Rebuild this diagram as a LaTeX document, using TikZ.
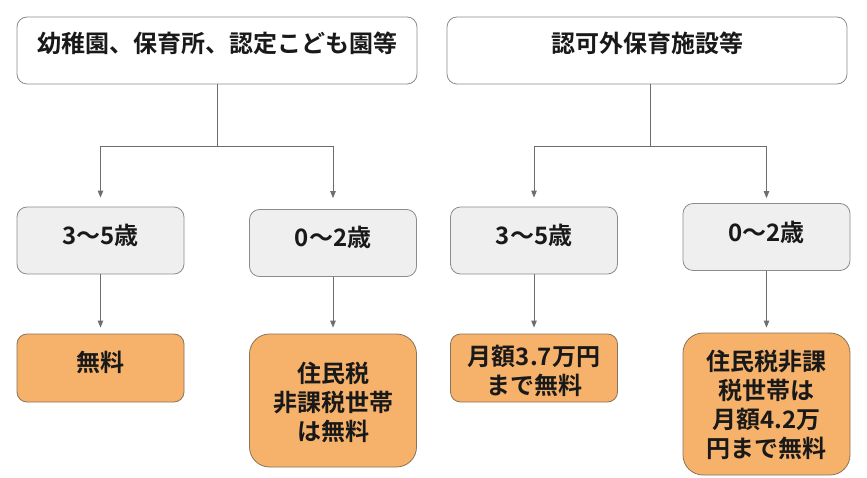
\documentclass[tikz,border=0pt]{standalone}
\usepackage{fontspec}
\setmainfont{Noto Sans CJK JP}[BoldFont={Noto Sans CJK JP Bold}]
\usetikzlibrary{arrows.meta}
\definecolor{grayfill}{HTML}{EFEFEF}
\definecolor{grayline}{HTML}{8C8C8C}
\definecolor{orangefill}{HTML}{F6B26B}
\definecolor{orangeline}{HTML}{8A7358}
\definecolor{conncol}{HTML}{6E6E6E}
\begin{document}
\begin{tikzpicture}[x=1pt,y=-1pt,
  whitebox/.style={draw=grayline,fill=white,rounded corners=10pt,line width=0.8pt,minimum width=400pt,minimum height=67pt,inner sep=0pt},
  graybox/.style={draw=grayline,fill=grayfill,rounded corners=10pt,line width=0.8pt,minimum width=167pt,minimum height=67pt,inner sep=0pt},
  orangebox/.style={draw=orangeline,fill=orangefill,line width=0.8pt,minimum width=167pt,inner sep=0pt},
  txt/.style={font=\bfseries\fontsize{24}{29}\selectfont,align=center,text=black!90,inner sep=0pt},
  conn/.style={draw=conncol,line width=0.9pt},
  arr/.style={conn,-{Triangle[width=5.5pt,length=7pt]}}
]
\useasboundingbox (0,0) rectangle (867,478);
% top boxes
\node[whitebox] (tl) at (217,50.5) {};
\node[txt] (tlt) at (217,43) {幼稚園、保育所、認定こども園等};
\node[whitebox] (tr) at (647,50.5) {};
\node[txt] (trt) at (647,43) {認可外保育施設等};
% middle boxes
\node[graybox] (l1) at (100.5,240.5) {};
\node[txt] (l1t) at (100.5,235) {3〜5歳};
\node[graybox] (l2) at (333,243) {};
\node[txt] (l2t) at (333,237) {0〜2歳};
\node[graybox] (r1) at (534,240.5) {};
\node[txt] (r1t) at (534,235) {3〜5歳};
\node[graybox] (r2) at (766.5,237) {};
\node[txt] (r2t) at (766.5,232) {0〜2歳};
% bottom boxes
\node[orangebox,rounded corners=10pt,minimum height=68pt] (b1) at (100.5,368) {};
\node[txt] (b1t) at (100.5,362) {無料};
\node[orangebox,rounded corners=20pt,minimum height=133pt] (b2) at (333,400.5) {};
\node[txt] (b2t) at (333,402) {住民税\\非課税世帯\\は無料};
\node[orangebox,rounded corners=10pt,minimum height=68pt] (b3) at (534,368) {};
\node[txt] (b3t) at (534,371) {月額3.7万円\\まで無料};
\node[orangebox,rounded corners=20pt,minimum height=142pt] (b4) at (766.5,404) {};
\node[txt] (b4t) at (766.5,405) {住民税非課\\税世帯は\\月額4.2万\\円まで無料};
% connectors left
\coordinate (jl) at (217,146);
\draw[conn] (tl.south) -- (jl);
\draw[arr,shorten >=9pt] (jl) -| (l1.north);
\draw[arr,shorten >=11pt] (jl) -| (l2.north);
\draw[arr,shorten >=6pt] (l1.south) -- (b1.north);
\draw[arr,shorten >=6pt] (l2.south) -- (b2.north);
% connectors right
\coordinate (jr) at (650,146);
\draw[conn] ([xshift=3pt]tr.south) -- (jr);
\draw[arr,shorten >=9pt] (jr) -| (r1.north);
\draw[arr,shorten >=5pt] (jr) -| (r2.north);
\draw[arr,shorten >=6pt] (r1.south) -- (b3.north);
\draw[arr,shorten >=5pt] (r2.south) -- (b4.north);
\end{tikzpicture}
\end{document}
